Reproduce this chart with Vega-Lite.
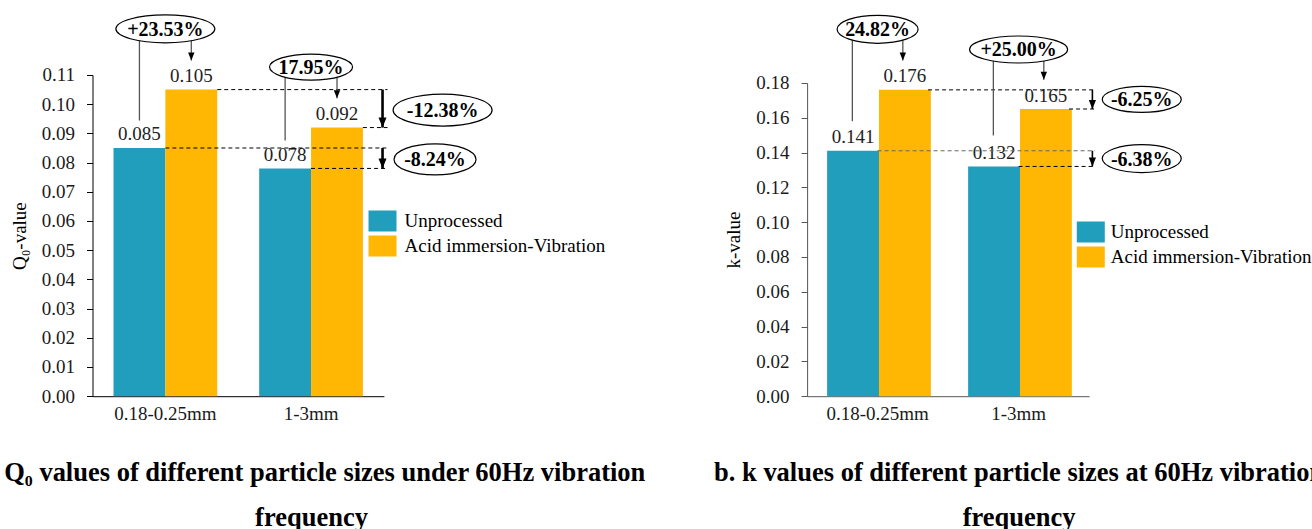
{
  "$schema": "https://vega.github.io/schema/vega-lite/v6.json",
  "background": "white",
  "padding": {"left": -23.5, "top": 12, "right": -13, "bottom": -1},
  "datasets": {
    "q0": [
      {"size": "0.18-0.25mm", "group": "Unprocessed", "value": 0.085},
      {"size": "0.18-0.25mm", "group": "Acid immersion-Vibration", "value": 0.105},
      {"size": "1-3mm", "group": "Unprocessed", "value": 0.078},
      {"size": "1-3mm", "group": "Acid immersion-Vibration", "value": 0.092}
    ],
    "k": [
      {"size": "0.18-0.25mm", "group": "Unprocessed", "value": 0.141},
      {"size": "0.18-0.25mm", "group": "Acid immersion-Vibration", "value": 0.176},
      {"size": "1-3mm", "group": "Unprocessed", "value": 0.132},
      {"size": "1-3mm", "group": "Acid immersion-Vibration", "value": 0.165}
    ]
  },
  "hconcat": [
    {
      "width": 291.4,
      "height": 321.2,
      "title": {"text": ["a. Q₀ values of different particle sizes under 60Hz vibration", "frequency"], "orient": "bottom", "anchor": "middle", "frame": "group", "dx": 73.3, "offset": 37},
      "layer": [
        {
          "data": {"name": "q0"},
          "mark": {"type": "bar"},
          "encoding": {
            "x": {"field": "size", "type": "nominal", "title": null, "scale": {"domain": ["0.18-0.25mm", "1-3mm"], "paddingInner": 0.288, "paddingOuter": 0.144}, "axis": {"domainColor": "#000"}},
            "xOffset": {"field": "group", "type": "nominal", "sort": null, "scale": {"domain": ["Unprocessed", "Acid immersion-Vibration"], "paddingInner": 0, "paddingOuter": 0}},
            "y": {"field": "value", "type": "quantitative", "scale": {"domain": [0, 0.11], "range": [321.2, 0], "nice": false, "zero": true}, "axis": {"values": [0, 0.01, 0.02, 0.03, 0.04, 0.05, 0.06, 0.07, 0.08, 0.09, 0.1, 0.11], "tickCount": 30, "format": ".2f", "title": "Q₀-value", "domainColor": "#000", "tickColor": "#000", "labelOverlap": false, "labelFlush": false}},
            "color": {"field": "group", "type": "nominal", "scale": {"domain": ["Unprocessed", "Acid immersion-Vibration"], "range": ["#219EBC", "#FFB703"]}, "legend": {"title": null, "orient": "none", "legendX": 276, "legendY": 132, "labelOffset": 8}}
          }
        },
        {
          "data": {"name": "q0"},
          "mark": {"type": "text", "baseline": "alphabetic", "dy": -7.5, "fontSize": 19, "color": "#222"},
          "encoding": {
            "x": {"field": "size", "type": "nominal"},
            "xOffset": {"field": "group", "type": "nominal", "sort": null},
            "y": {"field": "value", "type": "quantitative"},
            "text": {"field": "value", "type": "quantitative", "format": ".3f"}
          }
        },
        {
          "data": {"values": [{"size": "0.18-0.25mm", "to": "1-3mm", "v": 0.105}, {"size": "1-3mm", "to": "1-3mm", "v": 0.092}]},
          "mark": {"type": "rule", "strokeDash": [4, 3], "color": "#000", "strokeWidth": 1},
          "encoding": {
            "x": {"field": "size", "type": "nominal", "bandPosition": 1},
            "x2": {"field": "to", "bandPosition": 1.237},
            "y": {"field": "v", "type": "quantitative"}
          }
        },
        {
          "data": {"values": [{"size": "0.18-0.25mm", "to": "1-3mm", "v": 0.085}, {"size": "1-3mm", "to": "1-3mm", "v": 0.078}]},
          "mark": {"type": "rule", "strokeDash": [4, 3], "color": "#000", "strokeWidth": 1},
          "encoding": {
            "x": {"field": "size", "type": "nominal", "bandPosition": 0.5},
            "x2": {"field": "to", "bandPosition": 1.237},
            "y": {"field": "v", "type": "quantitative"}
          }
        },
        {
          "data": {"values": [{"size": "1-3mm", "from": 0.105, "tip": 0.092}, {"size": "1-3mm", "from": 0.085, "tip": 0.078}]},
          "encoding": {
            "x": {"field": "size", "type": "nominal", "bandPosition": 1.189}
          },
          "layer": [
            {"mark": {"type": "rule", "color": "#000", "strokeWidth": 2.6}, "encoding": {"y": {"field": "from", "type": "quantitative"}, "y2": {"field": "tip"}}},
            {"mark": {"type": "point", "shape": "M 0 0 L -0.4 -1 L 0.4 -1 Z", "size": 400, "filled": true, "color": "#000", "opacity": 1, "strokeWidth": 0}, "encoding": {"y": {"field": "tip", "type": "quantitative"}}}
          ]
        },
        {
          "data": {"values": [{"size": "0.18-0.25mm", "from": 0.1258, "to": 0.0944}, {"size": "1-3mm", "from": 0.1127, "to": 0.0876}]},
          "mark": {"type": "rule", "color": "#555", "strokeWidth": 1.3},
          "encoding": {
            "x": {"field": "size", "type": "nominal", "bandPosition": 0.25},
            "y": {"field": "from", "type": "quantitative"},
            "y2": {"field": "to"}
          }
        },
        {
          "data": {"values": [{"size": "0.18-0.25mm", "from": 0.1258, "tip": 0.115}, {"size": "1-3mm", "from": 0.1127, "tip": 0.102}]},
          "encoding": {
            "x": {"field": "size", "type": "nominal", "bandPosition": 0.75}
          },
          "layer": [
            {"mark": {"type": "rule", "color": "#555", "strokeWidth": 1.3}, "encoding": {"y": {"field": "from", "type": "quantitative"}, "y2": {"field": "tip"}}},
            {"mark": {"type": "point", "shape": "M 0 0 L -0.4 -1 L 0.4 -1 Z", "size": 256, "filled": true, "color": "#000", "opacity": 1, "strokeWidth": 0}, "encoding": {"y": {"field": "tip", "type": "quantitative"}}}
          ]
        },
        {
          "data": {"values": [{"size": "0.18-0.25mm", "v": 0.1258, "label": "+23.53%"}, {"size": "1-3mm", "v": 0.1127, "label": "17.95%"}]},
          "encoding": {
            "x": {"field": "size", "type": "nominal", "bandPosition": 0.5},
            "y": {"field": "v", "type": "quantitative"}
          },
          "layer": [
            {"mark": {"type": "point", "filled": true, "fill": "#fff", "stroke": "#000", "strokeWidth": 1.2, "size": 4, "opacity": 1},
             "encoding": {"shape": {"field": "label", "type": "nominal", "legend": null, "scale": {"domain": ["+23.53%", "17.95%", "-12.38%", "-8.24%"], "range": ["M -49.5 0 A 49.5 14 0 1 0 49.5 0 A 49.5 14 0 1 0 -49.5 0 Z", "M -41.5 0 A 41.5 13 0 1 0 41.5 0 A 41.5 13 0 1 0 -41.5 0 Z", "M -49.5 0 A 49.5 16 0 1 0 49.5 0 A 49.5 16 0 1 0 -49.5 0 Z", "M -41 0 A 41 15.5 0 1 0 41 0 A 41 15.5 0 1 0 -41 0 Z"]}}}},
            {"mark": {"type": "text", "fontSize": 20, "fontWeight": "bold", "baseline": "middle", "color": "#000", "dy": 1}, "encoding": {"text": {"field": "label", "type": "nominal"}}}
          ]
        },
        {
          "data": {"values": [{"size": "1-3mm", "v": 0.098, "label": "-12.38%"}]},
          "encoding": {
            "x": {"field": "size", "type": "nominal", "bandPosition": 1.768},
            "y": {"field": "v", "type": "quantitative"}
          },
          "layer": [
            {"mark": {"type": "point", "filled": true, "fill": "#fff", "stroke": "#000", "strokeWidth": 1.2, "size": 4, "opacity": 1},
             "encoding": {"shape": {"field": "label", "type": "nominal", "legend": null, "scale": {"domain": ["+23.53%", "17.95%", "-12.38%", "-8.24%"], "range": ["M -49.5 0 A 49.5 14 0 1 0 49.5 0 A 49.5 14 0 1 0 -49.5 0 Z", "M -41.5 0 A 41.5 13 0 1 0 41.5 0 A 41.5 13 0 1 0 -41.5 0 Z", "M -49.5 0 A 49.5 16 0 1 0 49.5 0 A 49.5 16 0 1 0 -49.5 0 Z", "M -41 0 A 41 15.5 0 1 0 41 0 A 41 15.5 0 1 0 -41 0 Z"]}}}},
            {"mark": {"type": "text", "fontSize": 20, "fontWeight": "bold", "baseline": "middle", "color": "#000", "dy": 1}, "encoding": {"text": {"field": "label", "type": "nominal"}}}
          ]
        },
        {
          "data": {"values": [{"size": "1-3mm", "v": 0.0811, "label": "-8.24%"}]},
          "encoding": {
            "x": {"field": "size", "type": "nominal", "bandPosition": 1.695},
            "y": {"field": "v", "type": "quantitative"}
          },
          "layer": [
            {"mark": {"type": "point", "filled": true, "fill": "#fff", "stroke": "#000", "strokeWidth": 1.2, "size": 4, "opacity": 1},
             "encoding": {"shape": {"field": "label", "type": "nominal", "legend": null, "scale": {"domain": ["+23.53%", "17.95%", "-12.38%", "-8.24%"], "range": ["M -49.5 0 A 49.5 14 0 1 0 49.5 0 A 49.5 14 0 1 0 -49.5 0 Z", "M -41.5 0 A 41.5 13 0 1 0 41.5 0 A 41.5 13 0 1 0 -41.5 0 Z", "M -49.5 0 A 49.5 16 0 1 0 49.5 0 A 49.5 16 0 1 0 -49.5 0 Z", "M -41 0 A 41 15.5 0 1 0 41 0 A 41 15.5 0 1 0 -41 0 Z"]}}}},
            {"mark": {"type": "text", "fontSize": 20, "fontWeight": "bold", "baseline": "middle", "color": "#000", "dy": 1}, "encoding": {"text": {"field": "label", "type": "nominal"}}}
          ]
        }
      ]
    },
    {
      "width": 282,
      "height": 321.2,
      "title": {"text": ["b. k values of different particle sizes at 60Hz vibration", "frequency"], "orient": "bottom", "anchor": "middle", "frame": "group", "dx": 71, "offset": 37},
      "layer": [
        {
          "data": {"name": "k"},
          "mark": {"type": "bar"},
          "encoding": {
            "x": {"field": "size", "type": "nominal", "title": null, "scale": {"domain": ["0.18-0.25mm", "1-3mm"], "paddingInner": 0.284, "paddingOuter": 0.142}, "axis": {"domainColor": "#555"}},
            "xOffset": {"field": "group", "type": "nominal", "sort": null, "scale": {"domain": ["Unprocessed", "Acid immersion-Vibration"], "paddingInner": 0, "paddingOuter": 0}},
            "y": {"field": "value", "type": "quantitative", "scale": {"domain": [0, 0.18], "range": [321.2, 7.9], "nice": false, "zero": true}, "axis": {"values": [0, 0.02, 0.04, 0.06, 0.08, 0.1, 0.12, 0.14, 0.16, 0.18], "tickCount": 30, "format": ".2f", "title": "k-value", "domainColor": "#555", "tickColor": "#555", "labelOverlap": false, "labelFlush": false}},
            "color": {"field": "group", "type": "nominal", "scale": {"domain": ["Unprocessed", "Acid immersion-Vibration"], "range": ["#219EBC", "#FFB703"]}, "legend": {"title": null, "orient": "none", "legendX": 269.7, "legendY": 143, "labelOffset": 6}}
          }
        },
        {
          "data": {"name": "k"},
          "mark": {"type": "text", "baseline": "alphabetic", "dy": -7.5, "fontSize": 19, "color": "#222"},
          "encoding": {
            "x": {"field": "size", "type": "nominal"},
            "xOffset": {"field": "group", "type": "nominal", "sort": null},
            "y": {"field": "value", "type": "quantitative"},
            "text": {"field": "value", "type": "quantitative", "format": ".3f"}
          }
        },
        {
          "data": {"values": [{"size": "0.18-0.25mm", "to": "1-3mm", "v": 0.176}, {"size": "1-3mm", "to": "1-3mm", "v": 0.165}]},
          "mark": {"type": "rule", "strokeDash": [4, 3], "color": "#000", "strokeWidth": 1},
          "encoding": {
            "x": {"field": "size", "type": "nominal", "bandPosition": 1},
            "x2": {"field": "to", "bandPosition": 1.257},
            "y": {"field": "v", "type": "quantitative"}
          }
        },
        {
          "data": {"values": [{"size": "0.18-0.25mm", "to": "1-3mm", "v": 0.141}]},
          "mark": {"type": "rule", "strokeDash": [4, 3], "color": "#666", "strokeWidth": 1},
          "encoding": {
            "x": {"field": "size", "type": "nominal", "bandPosition": 0.5},
            "x2": {"field": "to", "bandPosition": 1.257},
            "y": {"field": "v", "type": "quantitative"}
          }
        },
        {
          "data": {"values": [{"size": "1-3mm", "to": "1-3mm", "v": 0.132}]},
          "mark": {"type": "rule", "strokeDash": [4, 3], "color": "#000", "strokeWidth": 1},
          "encoding": {
            "x": {"field": "size", "type": "nominal", "bandPosition": 0.5},
            "x2": {"field": "to", "bandPosition": 1.257},
            "y": {"field": "v", "type": "quantitative"}
          }
        },
        {
          "data": {"values": [{"size": "1-3mm", "from": 0.176, "tip": 0.165}, {"size": "1-3mm", "from": 0.141, "tip": 0.132}]},
          "encoding": {
            "x": {"field": "size", "type": "nominal", "bandPosition": 1.231}
          },
          "layer": [
            {"mark": {"type": "rule", "color": "#000", "strokeWidth": 1.6}, "encoding": {"y": {"field": "from", "type": "quantitative"}, "y2": {"field": "tip"}}},
            {"mark": {"type": "point", "shape": "M 0 0 L -0.4 -1 L 0.4 -1 Z", "size": 324, "filled": true, "color": "#000", "opacity": 1, "strokeWidth": 0}, "encoding": {"y": {"field": "tip", "type": "quantitative"}}}
          ]
        },
        {
          "data": {"values": [{"size": "0.18-0.25mm", "from": 0.2108, "to": 0.158}, {"size": "1-3mm", "from": 0.1992, "to": 0.1498}]},
          "mark": {"type": "rule", "color": "#555", "strokeWidth": 1.3},
          "encoding": {
            "x": {"field": "size", "type": "nominal", "bandPosition": 0.25},
            "y": {"field": "from", "type": "quantitative"},
            "y2": {"field": "to"}
          }
        },
        {
          "data": {"values": [{"size": "0.18-0.25mm", "from": 0.2108, "tip": 0.1929}, {"size": "1-3mm", "from": 0.1992, "tip": 0.1818}]},
          "encoding": {
            "x": {"field": "size", "type": "nominal", "bandPosition": 0.75}
          },
          "layer": [
            {"mark": {"type": "rule", "color": "#555", "strokeWidth": 1.3}, "encoding": {"y": {"field": "from", "type": "quantitative"}, "y2": {"field": "tip"}}},
            {"mark": {"type": "point", "shape": "M 0 0 L -0.4 -1 L 0.4 -1 Z", "size": 256, "filled": true, "color": "#000", "opacity": 1, "strokeWidth": 0}, "encoding": {"y": {"field": "tip", "type": "quantitative"}}}
          ]
        },
        {
          "data": {"values": [{"size": "0.18-0.25mm", "v": 0.2108, "label": "24.82%"}, {"size": "1-3mm", "v": 0.1992, "label": "+25.00%"}]},
          "encoding": {
            "x": {"field": "size", "type": "nominal", "bandPosition": 0.5},
            "y": {"field": "v", "type": "quantitative"}
          },
          "layer": [
            {"mark": {"type": "point", "filled": true, "fill": "#fff", "stroke": "#000", "strokeWidth": 1.2, "size": 4, "opacity": 1},
             "encoding": {"shape": {"field": "label", "type": "nominal", "legend": null, "scale": {"domain": ["24.82%", "+25.00%", "-6.25%", "-6.38%"], "range": ["M -40.5 0 A 40.5 14 0 1 0 40.5 0 A 40.5 14 0 1 0 -40.5 0 Z", "M -49 0 A 49 13.5 0 1 0 49 0 A 49 13.5 0 1 0 -49 0 Z", "M -39.5 0 A 39.5 13 0 1 0 39.5 0 A 39.5 13 0 1 0 -39.5 0 Z", "M -39.5 0 A 39.5 14 0 1 0 39.5 0 A 39.5 14 0 1 0 -39.5 0 Z"]}}}},
            {"mark": {"type": "text", "fontSize": 20, "fontWeight": "bold", "baseline": "middle", "color": "#000", "dy": 1}, "encoding": {"text": {"field": "label", "type": "nominal"}}}
          ]
        },
        {
          "data": {"values": [{"size": "1-3mm", "v": 0.1705, "label": "-6.25%"}, {"size": "1-3mm", "v": 0.1365, "label": "-6.38%"}]},
          "encoding": {
            "x": {"field": "size", "type": "nominal", "bandPosition": 1.72},
            "y": {"field": "v", "type": "quantitative"}
          },
          "layer": [
            {"mark": {"type": "point", "filled": true, "fill": "#fff", "stroke": "#000", "strokeWidth": 1.2, "size": 4, "opacity": 1},
             "encoding": {"shape": {"field": "label", "type": "nominal", "legend": null, "scale": {"domain": ["24.82%", "+25.00%", "-6.25%", "-6.38%"], "range": ["M -40.5 0 A 40.5 14 0 1 0 40.5 0 A 40.5 14 0 1 0 -40.5 0 Z", "M -49 0 A 49 13.5 0 1 0 49 0 A 49 13.5 0 1 0 -49 0 Z", "M -39.5 0 A 39.5 13 0 1 0 39.5 0 A 39.5 13 0 1 0 -39.5 0 Z", "M -39.5 0 A 39.5 14 0 1 0 39.5 0 A 39.5 14 0 1 0 -39.5 0 Z"]}}}},
            {"mark": {"type": "text", "fontSize": 20, "fontWeight": "bold", "baseline": "middle", "color": "#000", "dy": 1}, "encoding": {"text": {"field": "label", "type": "nominal"}}}
          ]
        }
      ]
    }
  ],
  "spacing": 422.6,
  "bounds": "flush",
  "resolve": {"scale": {"color": "independent", "shape": "independent"}, "legend": {"color": "independent"}},
  "config": {
    "view": {"stroke": null},
    "font": "Liberation Serif",
    "axis": {"labelFont": "Liberation Serif", "labelFontSize": 19, "labelColor": "#1a1a1a", "labelOverlap": false, "titleFont": "Liberation Serif", "titleFontSize": 19, "titleFontWeight": "normal", "titleColor": "#000", "grid": false, "domainWidth": 1, "tickWidth": 1},
    "axisX": {"ticks": false, "labelPadding": 8, "labelAngle": 0},
    "axisY": {"tickSize": 6, "labelPadding": 12, "titlePadding": 12},
    "legend": {"symbolType": "M -1 -0.75 L 1 -0.75 L 1 0.75 L -1 0.75 Z", "symbolSize": 784, "labelFont": "Liberation Serif", "labelFontSize": 19, "labelColor": "#000", "labelLimit": 400, "rowPadding": 0, "padding": 0, "symbolStrokeWidth": 0, "symbolOpacity": 1},
    "title": {"font": "Liberation Serif", "fontSize": 26.5, "fontWeight": "bold", "color": "#000", "lineHeight": 45},
    "text": {"font": "Liberation Serif"}
  }
}
